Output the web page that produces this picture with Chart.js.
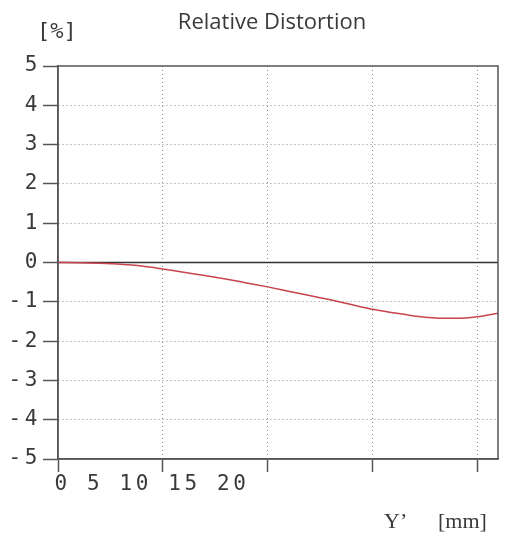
<!DOCTYPE html>
<html>
<head>
<meta charset="utf-8">
<script src="https://cdn.jsdelivr.net/npm/chart.js@4.4.0/dist/chart.umd.js"></script>
<style>
  body { margin: 0; background: #fff; }
  canvas { display: block; }
</style>
</head>
<body>
<canvas id="chart" width="506" height="537"></canvas>
<script>
// image height Y' in mm, relative distortion in %
const yImage = [0, 1, 2, 3, 4, 5, 6, 7, 8, 9, 10, 11, 12, 13, 14, 15, 16, 17, 18, 19, 20, 21];
const distortion = [0, -0.005, -0.02, -0.045, -0.09, -0.165, -0.25, -0.33, -0.42, -0.52, -0.62,
  -0.73, -0.84, -0.95, -1.07, -1.19, -1.28, -1.36, -1.41, -1.42, -1.38, -1.29];
const xTickLabels = ['0', '5', '10', '15', '20'];
const yTicks = [5, 4, 3, 2, 1, 0, -1, -2, -3, -4, -5];

const AXIS = '#555';
const TEXT = '#3a3a3a';
const MONO = '"DejaVu Sans Mono", monospace';

// annotations: title, units, the (offset) x tick labels, zero line and frame
const decorations = {
  id: 'decorations',
  beforeDraw(chart) {
    chart.ctx.letterSpacing = '3.6px';
  },
  beforeDatasetsDraw(chart) {
    const {ctx, chartArea: a, scales: {y}} = chart;
    ctx.save();
    ctx.strokeStyle = '#333';
    ctx.lineWidth = 1.5;
    const y0 = y.getPixelForValue(0);
    ctx.beginPath();
    ctx.moveTo(a.left, y0);
    ctx.lineTo(a.right, y0);
    ctx.stroke();
    ctx.restore();
  },
  afterDraw(chart) {
    const {ctx, chartArea: a} = chart;
    ctx.save();
    ctx.strokeStyle = AXIS;
    ctx.lineWidth = 1.5;
    ctx.strokeRect(a.left, a.top, a.right - a.left, a.bottom - a.top);

    ctx.fillStyle = TEXT;
    ctx.textBaseline = 'middle';

    ctx.letterSpacing = '0px';
    ctx.font = '22px "Open Sans", sans-serif';
    ctx.textAlign = 'center';
    ctx.fillText('Relative Distortion', 272, 23);

    ctx.textAlign = 'left';
    ctx.font = '22px ' + MONO;
    ctx.fillText('[%]', 37, 32);

    ctx.letterSpacing = '3.6px';
    ctx.font = '21px ' + MONO;
    ctx.fillText(xTickLabels.join(' '), 54.5, 485);

    ctx.letterSpacing = '0px';
    ctx.font = '22px "Liberation Serif", "DejaVu Serif", serif';
    ctx.fillText('Y\u2019', 384, 522);
    ctx.fillText('[mm]', 438, 522);
    ctx.restore();
  }
};

new Chart(document.getElementById('chart'), {
  type: 'line',
  data: {
    datasets: [{
      data: yImage.map((v, i) => ({x: v, y: distortion[i]})),
      borderColor: '#c8444c',
      borderWidth: 1.5,
      pointRadius: 0,
      cubicInterpolationMode: 'monotone',
      fill: false
    }]
  },
  options: {
    responsive: false,
    animation: false,
    layout: {padding: {top: 66, right: 8, bottom: 65, left: 0}},
    plugins: {legend: {display: false}, tooltip: {enabled: false}, title: {display: false}},
    scales: {
      x: {
        type: 'linear',
        min: 0,
        max: 21,
        afterBuildTicks: s => { s.ticks = xTickLabels.map(v => ({value: +v})); },
        afterFit: s => { s.height = 13; },
        ticks: {display: false},
        grid: {
          color: ctx => ctx.tick && ctx.tick.value === 0 ? 'rgba(0,0,0,0)' : '#888',
          lineWidth: 1,
          drawTicks: true,
          tickLength: 13,
          tickColor: AXIS,
          tickWidth: 1.5
        },
        border: {display: true, color: AXIS, width: 1.5, dash: [1, 3]}
      },
      y: {
        type: 'linear',
        min: -5,
        max: 5,
        afterBuildTicks: s => { s.ticks = yTicks.map(v => ({value: v})); },
        afterFit: s => { s.width = 58; },
        ticks: {
          color: TEXT,
          font: {family: MONO, size: 21},
          padding: 2,
          callback: v => String(v)
        },
        grid: {
          color: ctx => ctx.tick && (ctx.tick.value === 0 || Math.abs(ctx.tick.value) === 5) ? 'rgba(0,0,0,0)' : '#888',
          lineWidth: 1,
          drawTicks: true,
          tickLength: 15,
          tickColor: AXIS,
          tickWidth: 1.5
        },
        border: {display: true, color: AXIS, width: 1.5, dash: [1, 3]}
      }
    }
  },
  plugins: [decorations]
});
</script>
</body>
</html>
